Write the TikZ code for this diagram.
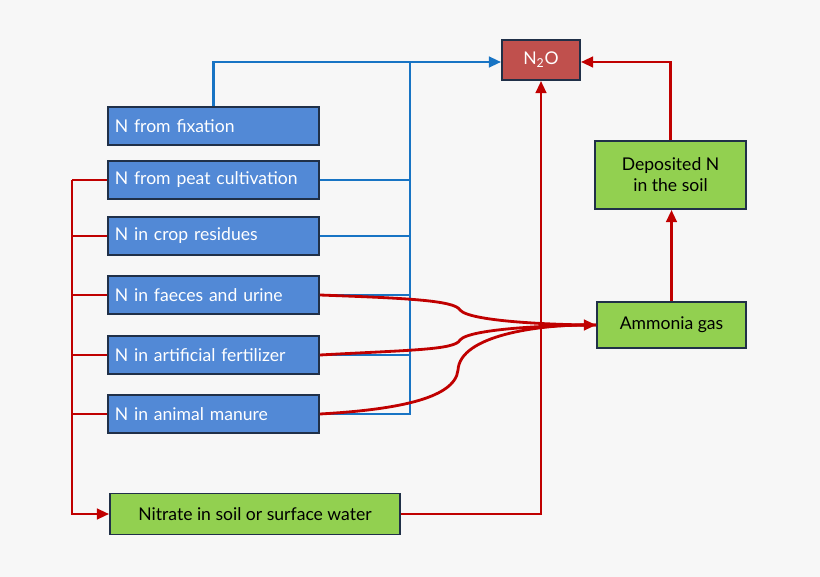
\documentclass[tikz,border=0pt]{standalone}
\usepackage{fontspec}
\setmainfont{Lato}
\usetikzlibrary{arrows.meta}
\definecolor{boxblue}{HTML}{5289D6}
\definecolor{boxgreen}{HTML}{92D050}
\definecolor{boxred}{HTML}{C0504D}
\definecolor{lineblue}{HTML}{1874C4}
\definecolor{linered}{HTML}{C00000}
\definecolor{edge}{HTML}{203048}
\begin{document}
\begin{tikzpicture}[x=0.02cm,y=-0.02cm,font=\fontsize{10}{12}\selectfont,
    srcbox/.style={draw=edge,line width=1pt,fill=boxblue,text=white,minimum width=4.22cm,minimum height=0.76cm,inner sep=0pt,text width=3.95cm,align=left},
    greenbox/.style={draw=edge,line width=1pt,fill=boxgreen,align=center,inner sep=0pt},
    blueline/.style={draw=lineblue,line width=1.6pt},
    redline/.style={draw=linered,line width=1.6pt},
    tip/.style={-{Triangle[length=7pt,width=6pt]}}]

    \fill[fill=black!3] (0,0) rectangle (820,577);

    % source boxes
    \node[srcbox] (fix) at (213.5,126) {N from fixation};
    \node[srcbox] (peat) at (213.5,180) {N from peat cultivation};
    \node[srcbox] (crop) at (213.5,236) {N in crop residues};
    \node[srcbox] (faec) at (213.5,295) {N in faeces and urine};
    \node[srcbox] (fert) at (213.5,355) {N in artificial fertilizer};
    \node[srcbox] (manure) at (213.5,414) {N in animal manure};

    % targets
    \node[draw=edge,line width=1pt,fill=boxred,text=white,minimum width=1.56cm,minimum height=0.8cm] (n2o) at (541,60) {N\textsubscript{2}O};
    \node[greenbox,minimum width=3.02cm,minimum height=1.36cm] (dep) at (670.5,175) {Deposited N\\in the soil};
    \node[greenbox,minimum width=2.98cm,minimum height=0.92cm] (amm) at (671.5,325) {Ammonia gas};
    \node[greenbox,minimum width=5.8cm,minimum height=0.82cm] (nit) at (255,514) {Nitrate in soil or surface water};

    \coordinate (bus) at (410,62);
    \coordinate (left) at (72,180);

    % blue connectors
    \draw[blueline,tip] (fix.north) |- (bus) -- (n2o.west |- bus);
    \draw[blueline] (manure.east) -| (bus);
    \foreach \s in {peat,crop,faec,fert}
        \draw[blueline] (\s.east) -- (\s.east -| bus);

    % red connectors
    \draw[redline] (peat.west) -| (left);
    \draw[redline,tip] (left) |- (nit.west);
    \foreach \s in {crop,faec,fert,manure}
        \draw[redline] (\s.west) -- (\s.west -| left);
    \draw[redline,tip] (nit.east) -| (n2o.south -| 541,0);
    \draw[redline,tip] (amm.north) -- (dep.south -| amm.north);
    \draw[redline,tip] (dep.north) |- (n2o.east |- 0,62);
    \draw[redline] (faec.east) .. controls (400,298) and (455,300) .. (460,310)
        .. controls (470,322) and (560,325) .. (amm.west);
    \draw[redline] (fert.east) .. controls (410,350) and (455,350) .. (460,340)
        .. controls (470,328) and (560,325) .. (amm.west);
    \draw[redline,tip] (manure.east) .. controls (390,410) and (455,400) .. (458,370)
        .. controls (460,335) and (540,325) .. (amm.west);
\end{tikzpicture}
\end{document}
